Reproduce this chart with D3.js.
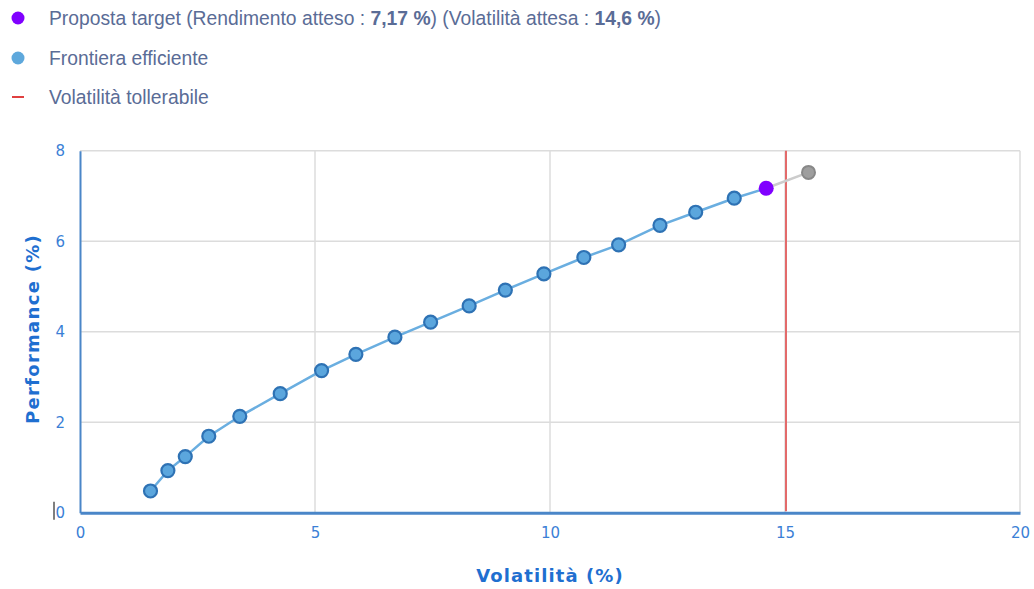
<!DOCTYPE html>
<html><head><meta charset="utf-8">
<script src="https://cdn.jsdelivr.net/npm/d3@7"></script>
<style>body{margin:0;background:#fff;}svg{display:block;}</style>
</head><body>
<svg id="c" width="1034" height="589"></svg>
<script>
const frontierVol = [1.5, 1.87, 2.24, 2.74, 3.4, 4.26, 5.14, 5.87, 6.7, 7.46, 8.28, 9.05, 9.87, 10.72, 11.46, 12.34, 13.1, 13.92];
const frontierPerf = [0.48, 0.93, 1.24, 1.69, 2.13, 2.63, 3.14, 3.50, 3.88, 4.21, 4.57, 4.92, 5.28, 5.64, 5.92, 6.35, 6.64, 6.95];
const targetPoint = {vol: 14.6, perf: 7.17};
const extraPoint = {vol: 15.5, perf: 7.52};
const tolerableVol = 15;
const xTicks = [0, 5, 10, 15, 20];
const yTicks = [0, 2, 4, 6, 8];
const legendItems = ["Proposta target", "Frontiera efficiente", "Volatilità tollerabile"];

const svg = d3.select("#c");
const x = d3.scaleLinear().domain([0, 20]).range([80, 1020]);
const y = d3.scaleLinear().domain([0, 8]).range([512.7, 150.7]);

// grid
svg.append("g").selectAll("line").data(xTicks.filter(d => d > 0)).join("line")
  .attr("x1", d => x(d)).attr("x2", d => x(d)).attr("y1", y(8)).attr("y2", y(0))
  .attr("stroke", "#dcdcdc").attr("stroke-width", 1.5);
svg.append("g").selectAll("line").data(yTicks.filter(d => d > 0)).join("line")
  .attr("x1", x(0)).attr("x2", x(20)).attr("y1", d => y(d)).attr("y2", d => y(d))
  .attr("stroke", "#dcdcdc").attr("stroke-width", 1.5);

// axes
const axisColor = "#4a86c8";
const tickColor = "#3b7fd6";
const xAxis = svg.append("g").attr("transform", `translate(0,${y(0)})`)
  .call(d3.axisBottom(x).tickValues(xTicks).tickSize(0).tickPadding(15));
xAxis.select(".domain").attr("stroke", axisColor).attr("stroke-width", 3);
xAxis.selectAll("text").attr("fill", tickColor).attr("font-family", "DejaVu Sans, Verdana").attr("font-size", 15);
const yAxis = svg.append("g").attr("transform", `translate(${x(0)},0)`)
  .call(d3.axisLeft(y).tickValues(yTicks).tickSize(0).tickPadding(15));
yAxis.select(".domain").attr("stroke", axisColor).attr("stroke-width", 2);
yAxis.selectAll("text").attr("fill", tickColor).attr("font-family", "DejaVu Sans, Verdana").attr("font-size", 15);
// small cursor mark near y=0
svg.append("line").attr("x1", 54).attr("x2", 54).attr("y1", y(0) - 11).attr("y2", y(0) + 7)
  .attr("stroke", "#555").attr("stroke-width", 1.5);

// red tolerable line
svg.append("line").attr("x1", x(tolerableVol) + 1).attr("x2", x(tolerableVol) + 1).attr("y1", y(8)).attr("y2", y(0) - 1.5)
  .attr("stroke", "#e36a6a").attr("stroke-width", 2);

// lines
const pts = frontierVol.map((v, i) => [v, frontierPerf[i]]);
const line = d3.line().x(d => x(d[0])).y(d => y(d[1]));
svg.append("path").attr("d", line([[targetPoint.vol, targetPoint.perf], [extraPoint.vol, extraPoint.perf]]))
  .attr("fill", "none").attr("stroke", "#cccccc").attr("stroke-width", 2.5);
svg.append("path").attr("d", line(pts.concat([[targetPoint.vol, targetPoint.perf]])))
  .attr("fill", "none").attr("stroke", "#6aaee0").attr("stroke-width", 2.5);

svg.append("g").selectAll("circle").data(pts).join("circle")
  .attr("cx", d => x(d[0])).attr("cy", d => y(d[1])).attr("r", 6.5)
  .attr("fill", "#5ba6dd").attr("stroke", "#2e72b4").attr("stroke-width", 2.2);
svg.append("circle").attr("cx", x(targetPoint.vol)).attr("cy", y(targetPoint.perf)).attr("r", 7.5)
  .attr("fill", "#8000ff");
svg.append("circle").attr("cx", x(extraPoint.vol)).attr("cy", y(extraPoint.perf)).attr("r", 6.5)
  .attr("fill", "#9e9e9e").attr("stroke", "#888").attr("stroke-width", 2);

// axis titles
svg.append("text").attr("x", 550).attr("y", 582).attr("text-anchor", "middle")
  .attr("fill", "#1f6fd0").style("font-family", "DejaVu Sans, Verdana").style("font-weight", "bold").style("font-size", "18px")
  .style("letter-spacing", "1.1px")
  .text("Volatilità (%)");
svg.append("text").attr("transform", "translate(39,329) rotate(-90)").attr("text-anchor", "middle")
  .attr("fill", "#1f6fd0").style("font-family", "DejaVu Sans, Verdana").style("font-weight", "bold").style("font-size", "18px")
  .style("letter-spacing", "1.3px")
  .text("Performance (%)");

// legend
const lg = svg.append("g").style("font-family", "Liberation Sans, Arial").style("font-size", "19.3px");
const textColor = "#5a6c96";
lg.append("circle").attr("cx", 18).attr("cy", 18).attr("r", 6.5).attr("fill", "#8000ff");
const t1 = lg.append("text").attr("x", 49).attr("y", 25).attr("fill", textColor);
t1.append("tspan").text(legendItems[0] + " (Rendimento atteso : ");
t1.append("tspan").style("font-weight", "bold").text(d3.format(".2f")(targetPoint.perf).replace(".", ",") + " %");
t1.append("tspan").text(") (Volatilità attesa : ");
t1.append("tspan").style("font-weight", "bold").text(d3.format(".1f")(targetPoint.vol).replace(".", ",") + " %");
t1.append("tspan").text(")");
lg.append("circle").attr("cx", 18).attr("cy", 58).attr("r", 6.5).attr("fill", "#5ea8dc");
lg.append("text").attr("x", 49).attr("y", 65).attr("fill", textColor).text(legendItems[1]);
lg.append("line").attr("x1", 12).attr("x2", 24).attr("y1", 97).attr("y2", 97).attr("stroke", "#e04040").attr("stroke-width", 2);
lg.append("text").attr("x", 49).attr("y", 104).attr("fill", textColor).text(legendItems[2]);
</script>
</body></html>
